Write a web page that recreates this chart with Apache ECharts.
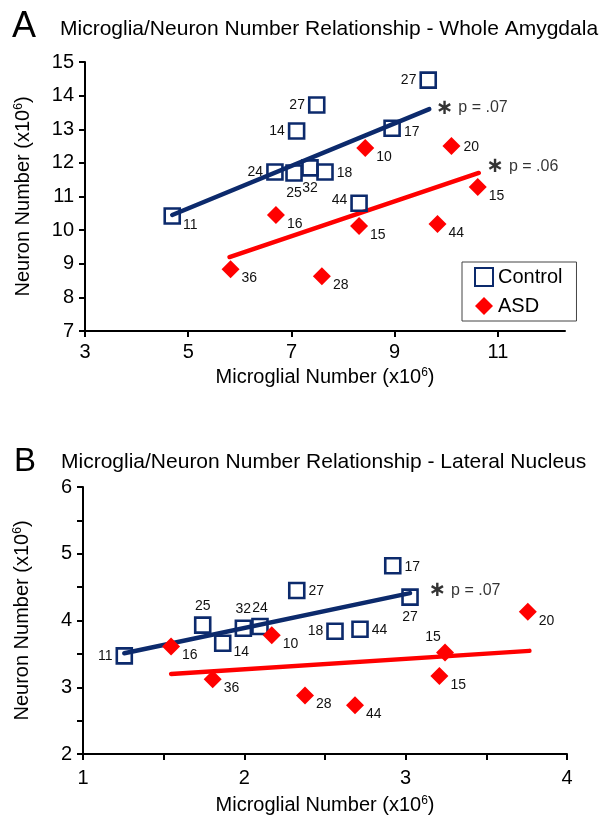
<!DOCTYPE html>
<html>
<head>
<meta charset="utf-8">
<script src="https://cdn.jsdelivr.net/npm/echarts@6/dist/echarts.min.js"></script>
<style>
html,body{margin:0;padding:0;background:#fff;}
#c{width:604px;height:822px;}
</style>
</head>
<body>
<div id="c"></div>
<script>
// ---------- Panel A: Whole Amygdala ----------
const ctrlA_x  = [4.69, 6.68, 7.05, 7.36, 7.65, 7.10, 7.49, 9.65, 8.95, 8.31];
const ctrlA_y  = [10.42, 11.73, 11.70, 11.85, 11.73, 12.95, 13.72, 14.46, 13.03, 10.80];
const ctrlA_id = ['11', '24', '25', '32', '18', '14', '27', '27', '17', '44'];
const asdA_x   = [8.43, 10.10, 10.61, 6.70, 5.82, 7.59, 8.31, 9.83];
const asdA_y   = [12.44, 12.50, 11.28, 10.45, 8.84, 8.63, 10.12, 10.18];
const asdA_id  = ['10', '20', '15', '16', '36', '28', '15', '44'];
const fitCtrlA_x = [4.69, 9.67];
const fitCtrlA_y = [10.45, 13.60];
const fitAsdA_x  = [5.80, 10.63];
const fitAsdA_y  = [9.20, 11.70];
const pCtrlA = 'p = .07';
const pAsdA  = 'p = .06';
const xTicksA = [3, 5, 7, 9, 11];

// ---------- Panel B: Lateral Nucleus ----------
const ctrlB_x  = [1.256, 1.742, 1.866, 1.994, 2.097, 2.325, 2.562, 2.717, 2.92, 3.027];
const ctrlB_y  = [3.47, 3.93, 3.66, 3.885, 3.91, 4.45, 3.84, 3.87, 4.82, 4.35];
const ctrlB_id = ['11', '25', '14', '32', '24', '27', '18', '44', '17', '27'];
const asdB_x   = [1.546, 1.804, 2.17, 2.376, 2.686, 3.244, 3.209, 3.757];
const asdB_y   = [3.61, 3.12, 3.78, 2.875, 2.73, 3.52, 3.17, 4.13];
const asdB_id  = ['16', '36', '10', '28', '44', '15', '15', '20'];
const fitCtrlB_x = [1.256, 3.027];
const fitCtrlB_y = [3.51, 4.41];
const fitAsdB_x  = [1.546, 3.767];
const fitAsdB_y  = [3.20, 3.545];
const pCtrlB = 'p = .07';

// ---------- label placement (style only) ----------
const RB = {position: 'right', offset: [-3, 9]};
const R  = {position: 'right', offset: [-2, 1]};
const L  = {position: 'left', offset: [2, 0]};
const T  = {position: 'top', offset: [0, 2]};
const B  = {position: 'bottom', offset: [0, -1]};
const placeCtrlA = [RB, L, B, B, R, L, L, L, {position: 'right', offset: [-2, 4]}, {position: 'left', offset: [2, -3]}];
const placeAsdA  = [RB, R, RB, RB, RB, RB, RB, RB];
const placeCtrlB = [L, T, RB, T, T, R, L, R, R, B];
const placeAsdB  = [RB, RB, RB, RB, RB, {position: 'top', offset: [-12, 6]}, RB, RB];

const NAVY = '#0c2a6c';
const RED = '#ff0000';
const FONT = '"Liberation Sans", Arial, sans-serif';

function pts(xs, ys, ids, places) {
  return xs.map((x, i) => ({
    value: [x, ys[i]],
    label: Object.assign({show: true, formatter: ids[i]}, places[i])
  }));
}
function line(xs, ys) { return xs.map((x, i) => [x, ys[i]]); }

const nameRich = {
  a: {fontSize: 20, fontFamily: FONT, color: '#000'},
  s: {fontSize: 12, fontFamily: FONT, color: '#000', verticalAlign: 'top', padding: [0, 0, 9, 0]}
};
const yName = '{a|Neuron Number (x10}{s|6}{a|)}';
const xName = '{a|Microglial Number (x10}{s|6}{a|)}';

const axisCommon = {
  axisLine: {show: true, onZero: false, lineStyle: {color: '#000', width: 2}},
  axisTick: {show: true, length: 6, lineStyle: {color: '#000', width: 2}},
  splitLine: {show: false},
  axisLabel: {color: '#000', fontSize: 20, fontFamily: FONT}
};

const ctrlStyle = {
  type: 'scatter', name: 'Control', symbol: 'rect', symbolSize: 15,
  itemStyle: {color: 'rgba(255,255,255,0)', borderColor: NAVY, borderWidth: 2.6, opacity: 1},
  label: {color: '#111', fontSize: 14, fontFamily: FONT, distance: 5},
  z: 3
};
const asdStyle = {
  type: 'scatter', name: 'ASD', symbol: 'diamond', symbolSize: 18,
  itemStyle: {color: RED, opacity: 1},
  label: {color: '#111', fontSize: 14, fontFamily: FONT, distance: 5},
  z: 3
};
const pRich = {
  s: {fontSize: 21, fontWeight: 'bold', fontFamily: '"DejaVu Sans", sans-serif', color: '#000', padding: [0, 5, 0, 0]},
  t: {fontSize: 16, fontFamily: FONT, color: '#000'}
};
function annot(xi, yi, x, y, txt, off) {
  return {
    type: 'scatter', xAxisIndex: xi, yAxisIndex: yi, symbolSize: 1, silent: true,
    itemStyle: {color: 'rgba(0,0,0,0)'},
    data: [{value: [x, y]}],
    label: {show: true, position: 'right', offset: off, formatter: '{s|\u2217}{t|' + txt + '}', rich: pRich},
    z: 5
  };
}

const option = {
  animation: false,
  backgroundColor: '#fff',
  title: [
    {text: 'A', left: 7, top: 4, textStyle: {fontSize: 36, fontWeight: 'normal', fontFamily: FONT, color: '#000'}},
    {text: 'Microglia/Neuron Number Relationship - Whole Amygdala', left: 55, top: 14,
     textStyle: {fontSize: 21, fontWeight: 'normal', fontFamily: FONT, color: '#000'}},
    {text: 'B', left: 9, top: 440, textStyle: {fontSize: 33, fontWeight: 'normal', fontFamily: FONT, color: '#000'}},
    {text: 'Microglia/Neuron Number Relationship - Lateral Nucleus', left: 56, top: 447,
     textStyle: {fontSize: 21, fontWeight: 'normal', fontFamily: FONT, color: '#000'}}
  ],
  legend: {
    data: [{name: 'Control'}, {name: 'ASD'}],
    orient: 'vertical', left: 462, top: 262,
    padding: [5, 14, 5, 12], itemGap: 9, itemWidth: 18, itemHeight: 18, itemTextGap: 6,
    borderColor: '#444', borderWidth: 1, backgroundColor: '#fff',
    textStyle: {fontSize: 20, fontFamily: FONT, color: '#000'}
  },
  grid: [
    {left: 85, top: 62, width: 480, height: 269},
    {left: 83, top: 487, width: 484, height: 267}
  ],
  xAxis: [
    Object.assign({}, axisCommon, {
      gridIndex: 0, type: 'value', min: 3, max: 12.3,
      axisTick: Object.assign({}, axisCommon.axisTick, {customValues: xTicksA}),
      axisLabel: Object.assign({}, axisCommon.axisLabel, {customValues: xTicksA, margin: 11}),
      name: xName, nameLocation: 'middle', nameGap: 36, nameTextStyle: {rich: nameRich}
    }),
    Object.assign({}, axisCommon, {
      gridIndex: 1, type: 'value', min: 1, max: 4, interval: 0.5,
      axisLabel: Object.assign({}, axisCommon.axisLabel, {margin: 14,
        formatter: v => (Math.abs(v - Math.round(v)) < 1e-9 ? String(Math.round(v)) : '')}),
      name: xName, nameLocation: 'middle', nameGap: 41, nameTextStyle: {rich: nameRich}
    })
  ],
  yAxis: [
    Object.assign({}, axisCommon, {
      gridIndex: 0, type: 'value', min: 7, max: 15, interval: 1,
      axisLabel: Object.assign({}, axisCommon.axisLabel, {margin: 11}),
      name: yName, nameLocation: 'middle', nameGap: 51, nameRotate: 90, nameTextStyle: {rich: nameRich}
    }),
    Object.assign({}, axisCommon, {
      gridIndex: 1, type: 'value', min: 2, max: 6, interval: 0.5,
      axisLabel: Object.assign({}, axisCommon.axisLabel, {margin: 11,
        formatter: v => (Math.abs(v - Math.round(v)) < 1e-9 ? String(Math.round(v)) : '')}),
      name: yName, nameLocation: 'middle', nameGap: 50, nameRotate: 90, nameTextStyle: {rich: nameRich}
    })
  ],
  series: [
    {type: 'line', xAxisIndex: 0, yAxisIndex: 0, data: line(fitCtrlA_x, fitCtrlA_y), symbol: 'none',
     lineStyle: {color: NAVY, width: 4.5, cap: 'round'}, z: 2, silent: true},
    {type: 'line', xAxisIndex: 0, yAxisIndex: 0, data: line(fitAsdA_x, fitAsdA_y), symbol: 'none',
     lineStyle: {color: RED, width: 4.5, cap: 'round'}, z: 2, silent: true},
    Object.assign({}, ctrlStyle, {xAxisIndex: 0, yAxisIndex: 0, data: pts(ctrlA_x, ctrlA_y, ctrlA_id, placeCtrlA)}),
    Object.assign({}, asdStyle, {xAxisIndex: 0, yAxisIndex: 0, data: pts(asdA_x, asdA_y, asdA_id, placeAsdA)}),
    annot(0, 0, fitCtrlA_x[1], fitCtrlA_y[1], pCtrlA, [1, -1]),
    annot(0, 0, fitAsdA_x[1], fitAsdA_y[1], pAsdA, [2, -6]),

    {type: 'line', xAxisIndex: 1, yAxisIndex: 1, data: line(fitCtrlB_x, fitCtrlB_y), symbol: 'none',
     lineStyle: {color: NAVY, width: 4.5, cap: 'round'}, z: 2, silent: true},
    {type: 'line', xAxisIndex: 1, yAxisIndex: 1, data: line(fitAsdB_x, fitAsdB_y), symbol: 'none',
     lineStyle: {color: RED, width: 4.5, cap: 'round'}, z: 2, silent: true},
    Object.assign({}, ctrlStyle, {xAxisIndex: 1, yAxisIndex: 1, data: pts(ctrlB_x, ctrlB_y, ctrlB_id, placeCtrlB)}),
    Object.assign({}, asdStyle, {xAxisIndex: 1, yAxisIndex: 1, data: pts(asdB_x, asdB_y, asdB_id, placeAsdB)}),
    annot(1, 1, fitCtrlB_x[1], fitCtrlB_y[1], pCtrlB, [13, -3])
  ]
};

const chart = echarts.init(document.getElementById('c'), null, {renderer: 'canvas'});
chart.setOption(option);
</script>
</body>
</html>
